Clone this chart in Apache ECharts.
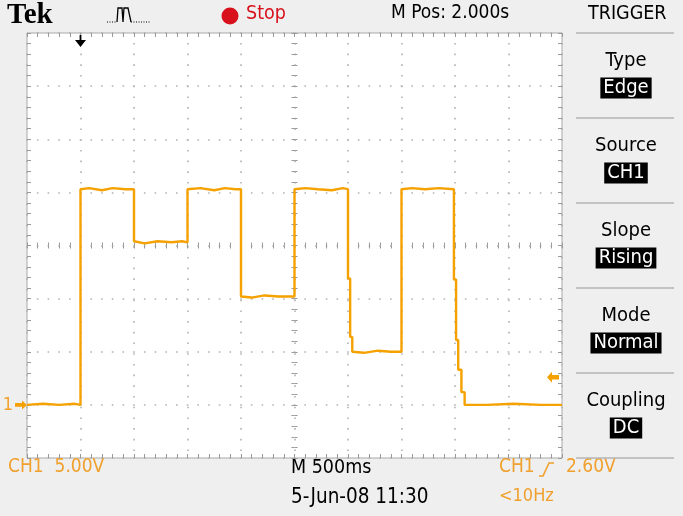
<!DOCTYPE html>
<html>
<head>
<meta charset="utf-8">
<script src="https://cdn.jsdelivr.net/npm/echarts@6/dist/echarts.min.js"></script>
<style>
  html, body { margin: 0; padding: 0; background: #efefef; }
  #scope { width: 683px; height: 516px; }
</style>
</head>
<body>
<div id="scope"></div>
<script>
// Horizontal: M 500 ms/div, 10 divisions, trigger point (t = 0) one division from the left
const timeRange = [-0.5, 4.5];
const timeDiv = 0.5;
// Vertical: CH1 5.00 V/div, 8 divisions, ground reference one division above the bottom
const voltRange = [-5, 35];
const voltDiv = 5;

// CH1 acquisition: sample times (s) and voltages (V)
const traceTime = [
  -0.5, -0.35, -0.2, -0.05, 0.0,
  0.0, 0.08, 0.2, 0.3, 0.42, 0.5,
  0.5, 0.6, 0.72, 0.85, 0.95, 1.0,
  1.0, 1.12, 1.25, 1.35, 1.45, 1.5,
  1.5, 1.6, 1.72, 1.85, 1.95, 2.0,
  2.0, 2.1, 2.22, 2.35, 2.45, 2.5,
  2.5, 2.52, 2.52, 2.54, 2.54, 2.65, 2.78, 2.9, 3.0,
  3.0, 3.1, 3.22, 3.35, 3.49,
  3.49, 3.51, 3.51, 3.53, 3.53, 3.56, 3.56, 3.59, 3.59, 3.8, 4.05, 4.3, 4.5
];
const traceVolt = [
  0.0, 0.1, 0.0, 0.1, 0.0,
  20.3, 20.4, 20.2, 20.4, 20.3, 20.3,
  15.4, 15.2, 15.4, 15.3, 15.4, 15.3,
  20.3, 20.4, 20.2, 20.4, 20.3, 20.3,
  10.2, 10.1, 10.3, 10.2, 10.2, 10.2,
  20.3, 20.4, 20.3, 20.2, 20.4, 20.3,
  11.9, 11.9, 6.4, 6.4, 5.0, 4.9, 5.1, 5.0, 5.0,
  20.3, 20.4, 20.3, 20.4, 20.3,
  11.8, 11.8, 6.1, 6.1, 3.3, 3.3, 1.2, 1.2, 0.0, 0.0, 0.1, 0.0, 0.0
];

// Trigger settings
const triggerTime = 0;
const triggerLevel = 2.6;

// Readouts
const headerTexts = { brand: 'Tek', state: 'Stop', position: 'M Pos: 2.000s', menu: 'TRIGGER' };
const footerTexts = { channel: 'CH1  5.00V', timebase: 'M 500ms', date: '5-Jun-08 11:30', trigSrc: 'CH1', trigLevel: '2.60V', freq: '<10Hz' };
const menuTitles = ['Type', 'Source', 'Slope', 'Mode', 'Coupling'];
const menuValues = ['Edge', 'CH1', 'Rising', 'Normal', 'DC'];

const ORANGE = '#F5A100';
const ORANGE_TXT = '#F0A02C';
const FONT = "'DejaVu Sans Condensed','Liberation Sans Narrow',sans-serif";

const chart = echarts.init(document.getElementById('scope'), null, { renderer: 'canvas' });

const plotRect = { left: 27, top: 33, width: 535, height: 425 };
const halfW = plotRect.width / 2;
const halfH = plotRect.height / 2;

const tickStyle = { color: '#9a9a9a', width: 1 };
const noLine = { show: false, onZero: false };

function xAxisBase(extra) {
  return Object.assign({
    type: 'value', min: timeRange[0], max: timeRange[1], interval: timeDiv,
    axisLabel: { show: false }, axisLine: noLine,
    splitLine: { show: false }
  }, extra);
}
function yAxisBase(extra) {
  return Object.assign({
    type: 'value', min: voltRange[0], max: voltRange[1], interval: voltDiv,
    axisLabel: { show: false }, axisLine: noLine,
    splitLine: { show: false }
  }, extra);
}
const borderTicks = {
  axisTick: { show: true, inside: true, length: 4, lineStyle: tickStyle },
  minorTick: { show: true, splitNumber: 5, length: 4, lineStyle: tickStyle }
};
const centerTicks = {
  axisTick: { show: true, inside: true, length: 3, lineStyle: tickStyle },
  minorTick: { show: true, splitNumber: 5, length: 3, lineStyle: tickStyle }
};
const dotted = (gap) => ({ show: true, lineStyle: { color: '#b2b2b2', width: 1.6, type: [1.6, gap], dashOffset: 0.8 } });

const traceData = traceTime.map((t, i) => [t, traceVolt[i]]);

function txt(left, top, text, size, fill, extra) {
  return Object.assign({ type: 'text', left: left, top: top,
    style: { text: text, fill: fill, font: size + 'px ' + FONT } }, extra || {});
}

// Header / footer / trigger menu decorations
const graphics = [
  { type: 'text', left: 7, top: 1, style: { text: headerTexts.brand, fill: '#000', font: "bold 29px 'Liberation Serif', serif" } },
  { type: 'polyline', shape: { points: [[107, 22], [117, 22]] }, style: { stroke: '#000', lineWidth: 1.2, lineDash: [1, 1.5], fill: null } },
  { type: 'polyline', shape: { points: [[117, 22], [118, 8], [122, 8], [123, 22], [124, 8], [128, 8], [131, 22]] },
    style: { stroke: '#000', lineWidth: 1.3, fill: null } },
  { type: 'polyline', shape: { points: [[131, 22], [150, 22]] }, style: { stroke: '#000', lineWidth: 1.2, lineDash: [1, 1.5], fill: null } },
  { type: 'circle', shape: { cx: 230, cy: 16, r: 8.5 }, style: { fill: '#D8101C' } },
  txt(246, 4, headerTexts.state, 19.5, '#D8101C'),
  txt(391, 4, headerTexts.position, 19, '#000'),
  txt(588, 4, headerTexts.menu, 19.5, '#000'),

  txt(8, 458, footerTexts.channel, 19, ORANGE_TXT),
  txt(291, 458, footerTexts.timebase, 19.5, '#000'),
  txt(291, 487, footerTexts.date, 20.5, '#000'),
  txt(499, 458, footerTexts.trigSrc, 19, ORANGE_TXT),
  { type: 'polyline', shape: { points: [[539, 476], [543, 476], [549, 463], [554, 463]] },
    style: { stroke: ORANGE_TXT, lineWidth: 1.6, fill: null } },
  txt(566, 458, footerTexts.trigLevel, 19, ORANGE_TXT),
  txt(499, 487, footerTexts.freq, 18, ORANGE_TXT)
];

const sepY = [33, 118, 203, 288, 373, 458];
sepY.forEach(y => {
  graphics.push({ type: 'line', shape: { x1: 576, y1: y, x2: 674, y2: y }, style: { stroke: '#b4b4b4', lineWidth: 1.5 } });
});
menuTitles.forEach((title, i) => {
  const base = sepY[i];
  graphics.push({ type: 'text', x: 626, y: base + 28, style: { text: title, fill: '#000', font: '20px ' + FONT, align: 'center', verticalAlign: 'middle' } });
  graphics.push({ type: 'text', x: 626, y: base + 55, style: {
    text: menuValues[i], fill: '#fff', font: '20px ' + FONT, align: 'center', verticalAlign: 'middle',
    backgroundColor: '#000', padding: [1, 3, 0, 3]
  } });
});

const option = {
  backgroundColor: '#efefef',
  animation: false,
  grid: [
    Object.assign({ show: true, backgroundColor: '#ffffff', borderColor: '#a9a9a9', borderWidth: 1 }, plotRect),
    Object.assign({}, plotRect),
    Object.assign({}, plotRect),
    Object.assign({}, plotRect)
  ],
  xAxis: [
    xAxisBase(Object.assign({ gridIndex: 0, position: 'bottom', splitLine: dotted(9.1) }, borderTicks)),
    xAxisBase(Object.assign({ gridIndex: 1, position: 'top' }, borderTicks)),
    xAxisBase(Object.assign({ gridIndex: 2, position: 'bottom', offset: -halfH }, centerTicks)),
    xAxisBase(Object.assign({ gridIndex: 3, position: 'top', offset: -halfH }, centerTicks))
  ],
  yAxis: [
    yAxisBase(Object.assign({ gridIndex: 0, position: 'left', splitLine: dotted(9.1) }, borderTicks)),
    yAxisBase(Object.assign({ gridIndex: 1, position: 'right' }, borderTicks)),
    yAxisBase(Object.assign({ gridIndex: 2, position: 'left', offset: -halfW }, centerTicks)),
    yAxisBase(Object.assign({ gridIndex: 3, position: 'right', offset: -halfW }, centerTicks))
  ],
  series: [{
    name: 'CH1',
    type: 'line',
    xAxisIndex: 0,
    yAxisIndex: 0,
    data: traceData,
    showSymbol: false,
    clip: false,
    lineStyle: { color: ORANGE, width: 2.4 },
    z: 5,
    markPoint: {
      silent: true,
      data: [
        { // ground reference marker
          coord: [timeRange[0], 0],
          symbol: 'path://M0,3 L7,3 L7,0 L12,5 L7,10 L7,7 L0,7 Z',
          symbolSize: [12, 9], symbolOffset: [-6, 0],
          itemStyle: { color: ORANGE },
          label: { show: true, formatter: '1', position: 'left', distance: 2, color: ORANGE_TXT, fontSize: 18, fontFamily: FONT }
        },
        { // trigger level marker
          coord: [timeRange[1], triggerLevel],
          symbol: 'path://M12,3 L5,3 L5,0 L0,5 L5,10 L5,7 L12,7 Z',
          symbolSize: [12, 11], symbolOffset: [-9, 0],
          itemStyle: { color: ORANGE },
          label: { show: false }
        },
        { // trigger position marker
          coord: [triggerTime, voltRange[1]],
          symbol: 'path://M5,0 L7,0 L7,5 L12,5 L6,12 L0,5 L5,5 Z',
          symbolSize: [11, 12], symbolOffset: [0, 8],
          itemStyle: { color: '#000' },
          label: { show: false }
        }
      ]
    }
  }],
  graphic: graphics
};

chart.setOption(option);
</script>
</body>
</html>
